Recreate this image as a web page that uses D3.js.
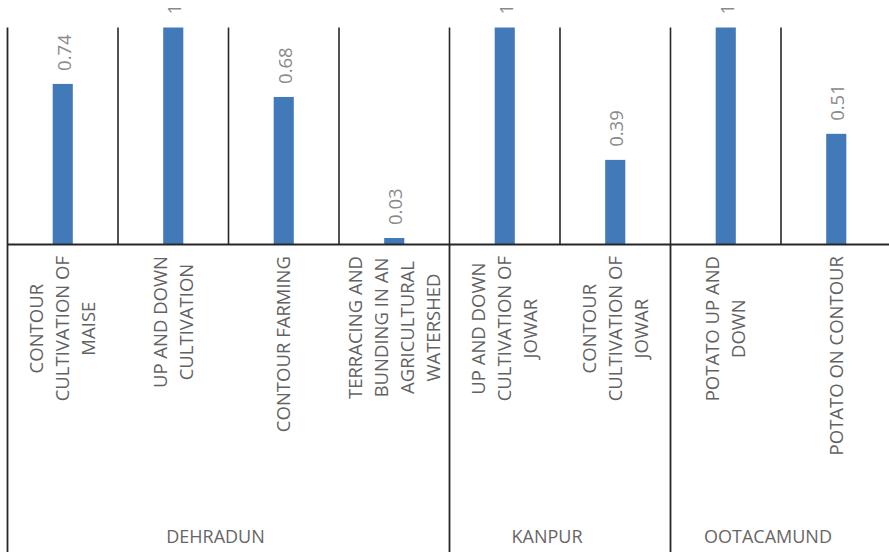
<!DOCTYPE html>
<html><head><meta charset="utf-8">
<script src="https://cdn.jsdelivr.net/npm/d3@7"></script>
<style>body{margin:0;background:#fff}svg{display:block}</style>
</head><body>
<svg id="c" width="889" height="552"></svg>
<script>
const categories = [
  ["CONTOUR","CULTIVATION OF","MAISE"],
  ["UP AND DOWN","CULTIVATION"],
  ["CONTOUR FARMING"],
  ["TERRACING AND","BUNDING IN AN","AGRICULTURAL","WATERSHED"],
  ["UP AND DOWN","CULTIVATION OF","JOWAR"],
  ["CONTOUR","CULTIVATION OF","JOWAR"],
  ["POTATO UP AND","DOWN"],
  ["POTATO ON CONTOUR"]
];
const groups = ["DEHRADUN","DEHRADUN","DEHRADUN","DEHRADUN","KANPUR","KANPUR","OOTACAMUND","OOTACAMUND"];
const values = [0.74, 1, 0.68, 0.03, 1, 0.39, 1, 0.51];
const valueLabels = ["0.74","1","0.68","0.03","1","0.39","1","0.51"];

const W = 889, H = 552;
const svg = d3.select("#c");
const font = "'Open Sans', sans-serif";
const fs = 18.5;
const idx = d3.range(categories.length);
const x = d3.scaleBand().domain(idx).range([7.5, 7.5 + 110.5 * 8]).paddingInner(0).paddingOuter(0);
const y = d3.scaleLinear().domain([0, 1]).range([244.5, 27.5]);
const bw = x.bandwidth() * 0.182;
const lineC = "#262626";

// vertical gridlines at category boundaries
svg.append("g").selectAll("line").data(idx.slice(1)).join("line")
  .attr("x1", d => x(d)).attr("x2", d => x(d))
  .attr("y1", y(1)).attr("y2", y(0))
  .attr("stroke", lineC).attr("stroke-width", 1.6);

// bars
svg.append("g").selectAll("rect").data(idx).join("rect")
  .attr("x", d => x(d) + x.bandwidth() / 2 - bw / 2)
  .attr("width", bw)
  .attr("y", d => y(values[d]))
  .attr("height", d => y(0) - y(values[d]))
  .attr("fill", "#4279B9");

// value labels
svg.append("g").selectAll("text").data(idx).join("text")
  .attr("transform", d => `translate(${x(d) + x.bandwidth() / 2 + 1.5},${y(values[d]) - 13}) rotate(-90)`)
  .attr("dy", "0.36em")
  .attr("font-family", font).attr("font-size", fs)
  .attr("fill", "#8a8a8a")
  .text(d => valueLabels[d]);

// axes lines
svg.append("line").attr("x1", 7.5).attr("x2", W).attr("y1", y(0)).attr("y2", y(0))
  .attr("stroke", lineC).attr("stroke-width", 1.8);
svg.append("line").attr("x1", 7.5).attr("x2", 7.5).attr("y1", y(1)).attr("y2", H)
  .attr("stroke", lineC).attr("stroke-width", 1.8);

// group separators below axis
const groupNames = Array.from(new Set(groups));
const groupInfo = groupNames.map(g => {
  const members = idx.filter(i => groups[i] === g);
  const start = x(members[0]), end = x(members[members.length - 1]) + x.bandwidth();
  return {g, start, end};
});
svg.append("g").selectAll("line").data(groupInfo.slice(1)).join("line")
  .attr("x1", d => d.start).attr("x2", d => d.start)
  .attr("y1", y(0)).attr("y2", H)
  .attr("stroke", lineC).attr("stroke-width", 1.8);

// category labels (rotated, multi-line, centered lines, top anchored near axis)
const lineH = 26, capH = 13.2, topY = 256;
idx.forEach(i => {
  const lines = categories[i];
  const cx = x(i) + x.bandwidth() / 2;
  const g = svg.append("g");
  const texts = lines.map((t, k) => g.append("text")
    .attr("font-family", font).attr("font-size", fs).attr("fill", "#626262")
    .attr("text-anchor", "middle").text(t));
  const maxW = d3.max(texts, t => t.node().getComputedTextLength());
  texts.forEach((t, k) => {
    const off = (k - (lines.length - 1) / 2) * lineH + capH / 2;
    t.attr("transform", `translate(${cx + off},${topY + maxW / 2}) rotate(-90)`);
  });
});

// group labels
svg.append("g").selectAll("text").data(groupInfo).join("text")
  .attr("x", d => (d.start + d.end) / 2 - 13)
  .attr("y", 543)
  .attr("text-anchor", "middle")
  .attr("font-family", font).attr("font-size", 18).attr("fill", "#666666")
  .text(d => d.g);
</script>
</body></html>
